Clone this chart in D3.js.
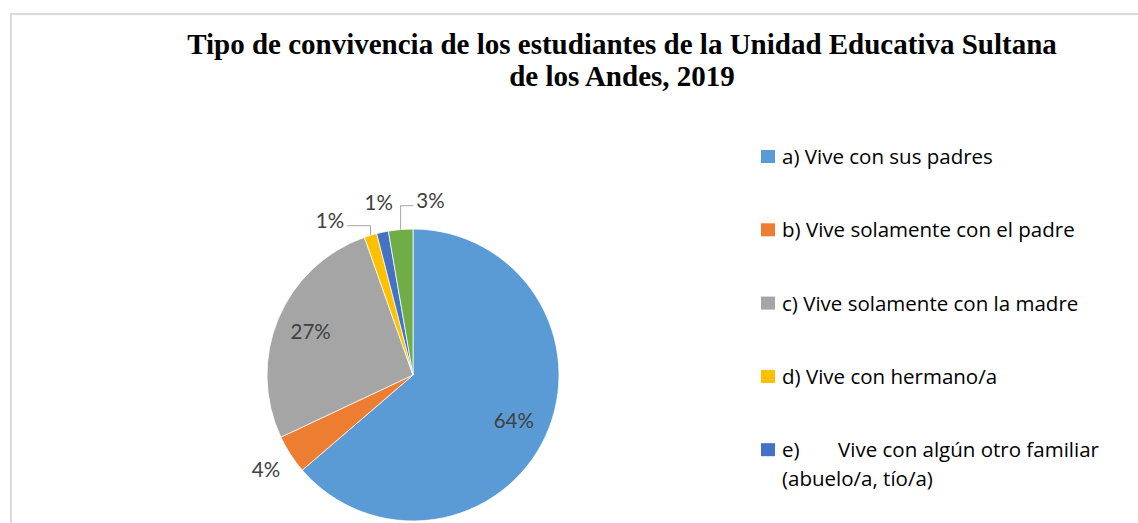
<!DOCTYPE html>
<html>
<head>
<meta charset="utf-8">
<script src="https://cdn.jsdelivr.net/npm/d3@7"></script>
<style>
  body { margin: 0; background: #fff; }
  svg { display: block; }
</style>
</head>
<body>
<div id="chart"></div>
<script>
// data (percent of students)
const categories = [
  'a) Vive con sus padres',
  'b) Vive solamente con el padre',
  'c) Vive solamente con la madre',
  'd) Vive con hermano/a',
  'e)\tVive con algún otro familiar (abuelo/a, tío/a)',
  'f) Vive solo'
]
const values = [63.7, 4.3, 26.6, 1.4, 1.3, 2.7]
const colors = ['#5b9bd5', '#ed7d31', '#a5a5a5', '#ffc000', '#4472c4', '#70ad47']
const titleLines = [
  'Tipo de convivencia de los estudiantes de la Unidad Educativa Sultana',
  'de los Andes, 2019'
]

let width = 1138,
  height = 523

let svg = d3.select('#chart')
  .append('svg')
  .attr('width', width)
  .attr('height', height)

// chart area frame (runs off the right and bottom of the picture)
svg.append('rect')
  .attr('x', 11)
  .attr('y', 14)
  .attr('width', 1200)
  .attr('height', 600)
  .attr('fill', 'none')
  .attr('stroke', '#d9d9d9')
  .attr('stroke-width', 2)

// title
svg.append('text')
  .attr('x', 622)
  .attr('y', 54)
  .attr('text-anchor', 'middle')
  .style('font-family', '"Liberation Serif", "Times New Roman", serif')
  .style('font-weight', 'bold')
  .style('font-size', '29px')
  .style('fill', '#000')
  .selectAll('tspan')
  .data(titleLines)
  .join('tspan')
  .attr('x', 622)
  .attr('dy', (d, i) => i ? 32 : 0)
  .text(d => d)

// pie
let cx = 413, cy = 375, r = 146

let pie = d3.pie().sort(null).value(d => d)
let arcs = pie(values)
let arc = d3.arc().innerRadius(0).outerRadius(r)

let g = svg.append('g').attr('transform', `translate(${cx},${cy})`)

g.selectAll('path')
  .data(arcs)
  .join('path')
  .attr('d', arc)
  .attr('fill', (d, i) => colors[i])
  .attr('stroke', '#fff')
  .attr('stroke-width', 0.75)

// label angles: big slices inside, small ones outside spread apart
let sep = 17 * Math.PI / 180
arcs.forEach(d => {
  d.mid = (d.startAngle + d.endAngle) / 2
  d.inside = d.value >= 10
  d.la = d.mid
})
let outs = arcs.filter(d => !d.inside)
let clusters = []
outs.forEach(d => {
  let last = clusters[clusters.length - 1]
  if (last && d.mid - last[last.length - 1].mid < sep) last.push(d)
  else clusters.push([d])
})
clusters.forEach(c => {
  let mean = d3.mean(c, d => d.mid)
  c.forEach((d, i) => { d.la = mean + (i - (c.length - 1) / 2) * sep })
})

let pos = d => {
  let rr = d.inside ? r * 0.76 : r * 1.2
  return [rr * Math.sin(d.la), -rr * Math.cos(d.la)]
}

let labels = g.selectAll('text.lbl')
  .data(arcs)
  .join('text')
  .attr('class', 'lbl')
  .attr('x', d => pos(d)[0])
  .attr('y', d => pos(d)[1])
  .attr('dy', '0.35em')
  .attr('text-anchor', 'middle')
  .style('font-family', 'Lato, "Open Sans", sans-serif')
  .style('font-size', '20.5px')
  .style('fill', '#404040')
  .text(d => Math.round(d.value) + '%')

// leader lines for labels pushed away from their slice
labels.each(function(d) {
  if (Math.abs(d.la - d.mid) < 5 * Math.PI / 180) return
  let w = this.getComputedTextLength()
  let p = pos(d)
  let e = [r * Math.sin(d.mid), -r * Math.cos(d.mid)]
  let sx = p[0] < e[0] ? p[0] + w / 2 + 3 : p[0] - w / 2 - 3
  let sy = p[1] + 5
  g.append('polyline')
    .attr('points', [[sx, sy], [e[0], sy], e].map(q => q.join(',')).join(' '))
    .attr('fill', 'none')
    .attr('stroke', '#a6a6a6')
    .attr('stroke-width', 1)
})

// legend (entries below the bottom edge are clipped away, as in the picture)
let lx = 761, ly = 157, step = 73.3, lineH = 29, maxX = 1118
let legend = svg.append('g')
  .style('font-family', '"Open Sans", Lato, sans-serif')
  .style('font-size', '20.5px')
  .style('fill', '#000')

let y = ly
categories.forEach((c, i) => {
  if (y + 7 > height) return

  legend.append('rect')
    .attr('x', lx)
    .attr('y', y - 7)
    .attr('width', 14)
    .attr('height', 13)
    .attr('fill', colors[i])

  let t = legend.append('text').attr('y', y + 7)
  let parts = c.split('\t')
  let lines = 1
  if (parts.length > 1) {
    t.append('tspan').attr('x', lx + 21).text(parts[0])
    // wrap the rest after the tab stop
    let words = parts[1].split(' ')
    let cur = t.append('tspan').attr('x', 838)
    let txt = ''
    words.forEach(wd => {
      let test = txt ? txt + ' ' + wd : wd
      cur.text(test)
      if (cur.node().getComputedTextLength() + (lines === 1 ? 838 : lx + 21) > maxX && txt) {
        cur.text(txt)
        lines++
        cur = t.append('tspan').attr('x', lx + 21).attr('dy', lineH)
        txt = wd
        cur.text(txt)
      } else {
        txt = test
      }
    })
  } else {
    t.attr('x', lx + 21).text(c)
  }
  y += step + (lines - 1) * lineH
})
</script>
</body>
</html>
